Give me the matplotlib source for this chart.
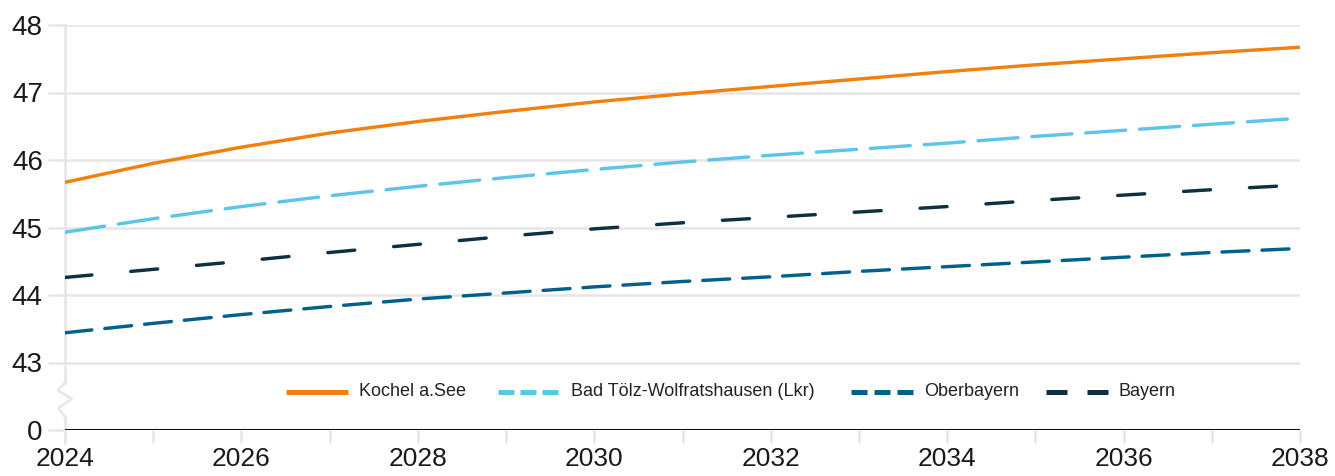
import matplotlib
matplotlib.use("Agg")
import matplotlib.pyplot as plt
from matplotlib.lines import Line2D
from matplotlib.transforms import blended_transform_factory

years = list(range(2024, 2039))
kochel = [45.67, 45.95, 46.19, 46.40, 46.57, 46.72, 46.86, 46.98, 47.09, 47.20, 47.31, 47.41, 47.50, 47.59, 47.67]
badtoelz = [44.93, 45.13, 45.31, 45.47, 45.61, 45.74, 45.86, 45.97, 46.07, 46.16, 46.25, 46.35, 46.44, 46.53, 46.62]
oberbayern = [43.44, 43.58, 43.71, 43.83, 43.94, 44.03, 44.12, 44.20, 44.27, 44.35, 44.42, 44.49, 44.56, 44.63, 44.69]
bayern = [44.26, 44.38, 44.50, 44.63, 44.75, 44.87, 44.98, 45.07, 45.15, 45.23, 45.31, 45.40, 45.48, 45.56, 45.63]
labels = ["Kochel a.See", "Bad Tölz-Wolfratshausen (Lkr)", "Oberbayern", "Bayern"]
ytick_vals = [0, 43, 44, 45, 46, 47, 48]
xtick_labels = [str(y) for y in range(2024, 2039, 2)]

colors = ["#f0810f", "#5dc4ea", "#00608c", "#0b3142"]

plt.rcParams['font.family'] = ['Liberation Sans', 'DejaVu Sans']

W, H = 1335, 476
fig = plt.figure(figsize=(W / 100, H / 100), dpi=100)
L, R, T, B = 65, 1300, 25, 430
ax = fig.add_axes([L / W, 1 - B / H, (R - L) / W, (B - T) / H])

# broken axis mapping: 0 shown at 42
def ymap(v):
    return 42 if v == 0 else v

ax.set_xlim(2024, 2038)
ax.set_ylim(42, 48)

grid_c = "#e6e6e6"
for v in ytick_vals[1:]:
    ax.axhline(ymap(v), color=grid_c, lw=1.8, zorder=0)

px2pt = 72 / 100
lw = 3.4 * px2pt

def dashes(on_px, off_px, width):
    return (on_px * px2pt / width, off_px * px2pt / width)

series = [kochel, badtoelz, oberbayern, bayern]
styles = [None, dashes(40, 14, lw), dashes(27, 13, lw), dashes(27, 39, lw)]
for s, c, st, lab in zip(series, colors, styles, labels):
    ln, = ax.plot(years, [ymap(v) for v in s], color=c, lw=lw, label=lab,
                  solid_capstyle='butt', dash_capstyle='round', zorder=3)
    if st is not None:
        ln.set_dashes(st)

# zero baseline
ax.axhline(42, color="#111111", lw=2.2, zorder=4)

# left vertical line with zigzag break
def py2d(py):
    return 48 - (py - T) / ((B - T) / 6)
axw = R - L
tr = blended_transform_factory(ax.transAxes, ax.transData)
ax.plot([0, 0], [48, py2d(383)], color=grid_c, lw=1.8, transform=tr, clip_on=False, zorder=1)
zz_x = [65, 57.7, 71.7, 58.3, 65]
zz_y = [383, 390, 399, 408, 417]
ax.plot([(x - L) / axw for x in zz_x], [py2d(y) for y in zz_y], color=grid_c, lw=1.8,
        transform=tr, clip_on=False, zorder=1)
ax.plot([0, 0], [py2d(417), py2d(443)], color=grid_c, lw=1.8, transform=tr, clip_on=False, zorder=1)

for sp in ax.spines.values():
    sp.set_visible(False)

ax.set_yticks([ymap(v) for v in ytick_vals])
ax.set_yticklabels([str(v) for v in ytick_vals])
ax.tick_params(axis='y', length=12, width=1.8, color=grid_c, pad=4, labelsize=20, labelcolor="#1a1a1a")

ax.set_xticks(range(2024, 2039, 2))
ax.set_xticklabels(xtick_labels)
ax.set_xticks(range(2025, 2038, 2), minor=True)
ax.tick_params(axis='x', which='both', length=9.5, width=1.8, color=grid_c, pad=3, labelsize=19, labelcolor="#1a1a1a")

# manual legend (pixel layout)
leg_y = 1 - 392 / H
leg_lw = 5 * px2pt
leg_x = [286, 498, 851, 1046]
leg_dash = [None, dashes(16, 6, leg_lw), dashes(16, 7, leg_lw), dashes(21, 20, leg_lw)]
for x0, c, d, lab in zip(leg_x, colors, leg_dash, labels):
    hl = Line2D([x0 / W, (x0 + 62) / W], [leg_y, leg_y], transform=fig.transFigure,
                color=c, lw=leg_lw, solid_capstyle='butt', dash_capstyle='butt')
    if d is not None:
        hl.set_dashes(d)
    fig.add_artist(hl)
    fig.text((x0 + 73) / W, leg_y, lab, fontsize=13, color="#222222", va='center', ha='left')

fig.savefig("out.png", dpi=100, facecolor="white")
